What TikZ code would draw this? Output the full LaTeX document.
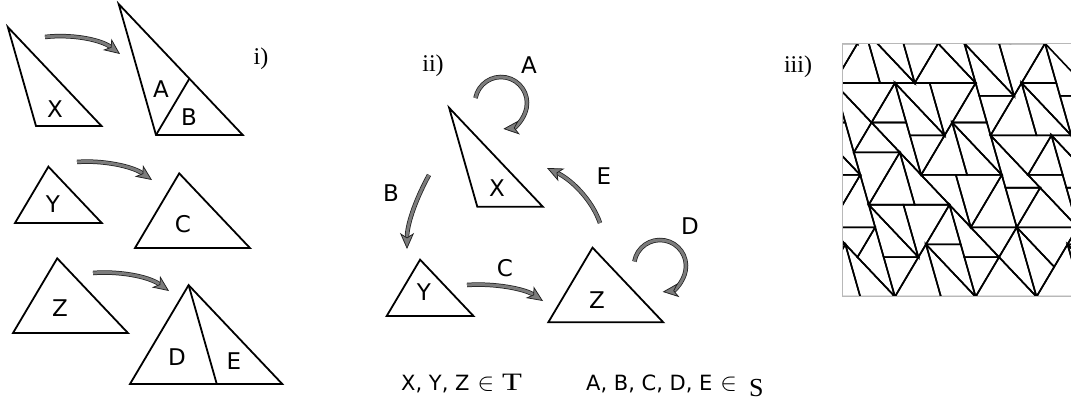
\documentclass[tikz,border=0pt]{standalone}
\usepackage{fontspec}
\setmainfont{Liberation Serif}
\newfontfamily\labfont{DejaVu Sans}
\usetikzlibrary{arrows.meta}
\definecolor{agray}{HTML}{7C7C7C}
\definecolor{aout}{HTML}{202020}
\definecolor{bgray}{HTML}{B8B8B8}
\def\rk{0.5698403}
% substitution tiling: X(a,b,c) -> X(a,M,b)+Y(M,b,c); Y(a,b,c) -> Z(a,b,c); Z(a,b,c) -> Z(N,b,a)+X(a,N,c)
\newcommand\tileX[7]{%
  \ifnum#1=0 \draw[tl] (#2,#3)--(#4,#5)--(#6,#7)--cycle;%
  \else
    \pgfmathsetmacro\mx{(#2)+\rk*((#6)-(#2))}%
    \pgfmathsetmacro\my{(#3)+\rk*((#7)-(#3))}%
    \edef\nxt{\noexpand\tileX{\the\numexpr#1-1\relax}{#2}{#3}{\mx}{\my}{#4}{#5}%
      \noexpand\tileY{\the\numexpr#1-1\relax}{\mx}{\my}{#4}{#5}{#6}{#7}}%
    \nxt
  \fi}
\newcommand\tileY[7]{%
  \ifnum#1=0 \draw[tl] (#2,#3)--(#4,#5)--(#6,#7)--cycle;%
  \else
    \edef\nxt{\noexpand\tileZ{\the\numexpr#1-1\relax}{#2}{#3}{#4}{#5}{#6}{#7}}%
    \nxt
  \fi}
\newcommand\tileZ[7]{%
  \ifnum#1=0 \draw[tl] (#2,#3)--(#4,#5)--(#6,#7)--cycle;%
  \else
    \pgfmathsetmacro\nx{(#4)+\rk*((#6)-(#4))}%
    \pgfmathsetmacro\ny{(#5)+\rk*((#7)-(#5))}%
    \edef\nxt{\noexpand\tileZ{\the\numexpr#1-1\relax}{\nx}{\ny}{#4}{#5}{#2}{#3}%
      \noexpand\tileX{\the\numexpr#1-1\relax}{#2}{#3}{\nx}{\ny}{#6}{#7}}%
    \nxt
  \fi}
\begin{document}
\begin{tikzpicture}[x=1pt,y=-1pt,
  tri/.style={draw=black,line width=1.8pt,line join=miter},
  tl/.style={draw=black,line width=1.6pt},
  lab/.style={inner sep=0pt,font=\labfont\fontsize{23}{27}\selectfont},
  num/.style={inner sep=0pt,font=\fontsize{24}{28}\selectfont},
  garrow/.style={draw=aout,double=agray,double distance=3pt,line width=0.75pt,
    -{Stealth[length=16pt,width=14pt,inset=4.5pt,fill=agray,line width=0.75pt]}}]
\useasboundingbox (0,0) rectangle (1071,402);
% ---------------- panel i ----------------
\draw[tri] (7.83,27.11) -- (36,126) -- (101.5,126) -- cycle;
\draw[tri] (118.68,4.0) -- (156,135) -- (242.77,135) -- cycle;
\draw[tri] (156,135) -- (189.39,78.65);
\draw[tri] (48.39,166.65) -- (15,223) -- (101.77,223) -- cycle;
\draw[tri] (179.23,173.35) -- (135,248) -- (249.94,248) -- cycle;
\draw[tri] (57.23,258.35) -- (13,333) -- (127.94,333) -- cycle;
\draw[tri] (188.6,285.11) -- (130,384) -- (282.26,384) -- cycle;
\draw[tri] (188.6,285.11) -- (216.77,384);
\node[lab] (lX1) at (55,109) {X};
\node[lab] (lA1) at (161,89) {A};
\node[lab] (lB1) at (189,117) {B};
\node[lab] (lY1) at (53,204) {Y};
\node[lab] (lC1) at (183,224) {C};
\node[lab] (lZ1) at (60,308) {Z};
\node[lab] (lD1) at (177,357) {D};
\node[lab] (lE1) at (234,361) {E};
\node[num] (ni) at (261,59) {i)};
\coordinate (s1) at (45,37);  \coordinate (e1) at (120,54);
\coordinate (s2) at (77,162); \coordinate (e2) at (152,180);
\coordinate (s3) at (93,273); \coordinate (e3) at (169,291);
\draw[garrow] (s1) .. controls (70,34) and (100,39) .. (e1);
\draw[garrow] (s2) .. controls (102,160) and (132,166) .. (e2);
\draw[garrow] (s3) .. controls (118,271) and (148,276) .. (e3);
% ---------------- panel ii ----------------
\draw[tri] (449.13,107.81) -- (477.3,206.7) -- (542.8,206.7) -- cycle;
\draw[tri] (420.09,259.65) -- (386.7,316) -- (473.47,316) -- cycle;
\draw[tri] (592.53,247.65) -- (548.3,322.3) -- (663.24,322.3) -- cycle;
\node[lab] (lX2) at (497,188) {X};
\node[lab] (lY2) at (424,292) {Y};
\node[lab] (lZ2) at (597,300) {Z};
\node[lab] (lA2) at (529,65) {A};
\node[lab] (lB2) at (391,193) {B};
\node[lab] (lC2) at (505,268) {C};
\node[lab] (lD2) at (690,226) {D};
\node[lab] (lE2) at (604,176) {E};
\node[num] (nii) at (433,66) {ii)};
\coordinate (cA) at (501,103);
\coordinate (cD) at (660,266);
\draw[garrow] ([shift={(191:26)}]cA) arc[start angle=191,end angle=445,radius=26];
\draw[garrow] ([shift={(190:26)}]cD) arc[start angle=190,end angle=444,radius=26];
\coordinate (sB) at (429,175); \coordinate (eB) at (407,249);
\coordinate (sC) at (467,285); \coordinate (eC) at (543,301);
\coordinate (sE) at (600,223); \coordinate (eE) at (547,168);
\draw[garrow] (sB) .. controls (418,195) and (407,222) .. (eB);
\draw[garrow] (sC) .. controls (495,283) and (525,289) .. (eC);
\draw[garrow] (sE) .. controls (592,200) and (572,180) .. (eE);
\node[anchor=base west,inner sep=0pt,font=\labfont\fontsize{21}{25}\selectfont] (setT) at (401,390)
  {X, Y, Z\hspace{8pt}{\fontsize{26}{28}\selectfont$\in$}\hspace{8pt}{\rmfamily\fontsize{25}{28}\selectfont\scalebox{1.3}[1]{T}}};
\node[anchor=base west,inner sep=0pt,font=\labfont\fontsize{21}{25}\selectfont] (setS) at (586,390)
  {A, B, C, D, E\hspace{8pt}{\fontsize{26}{28}\selectfont$\in$}\hspace{12pt}\raisebox{-6pt}{\rmfamily\fontsize{26}{28}\selectfont S}};
% ---------------- panel iii ----------------
\node[num] (niii) at (798,67) {iii)};
\begin{scope}
\clip (842,43.3) rectangle (1110,296.7);
\tileX{10}{459.02}{-575.19}{707.41}{296.7}{1284.93}{296.7}
\end{scope}
\draw[bgray,line width=1pt] (842,43.3) rectangle (1110,296.7);
\end{tikzpicture}
\end{document}
